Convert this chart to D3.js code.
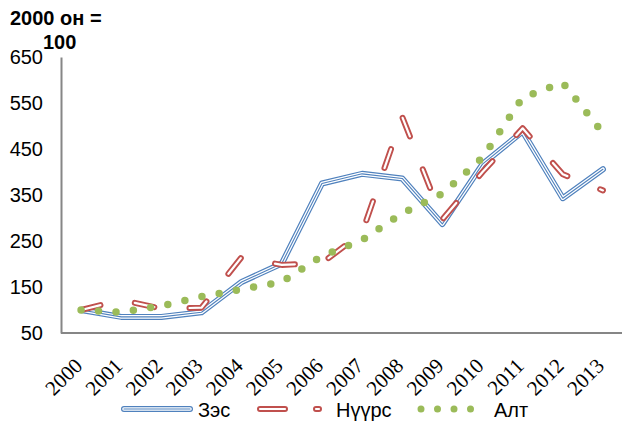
<!DOCTYPE html>
<html><head><meta charset="utf-8">
<script src="https://cdn.jsdelivr.net/npm/d3@7"></script>
<style>body{margin:0;background:#fff}svg{display:block}</style>
</head><body>
<svg id="c" width="622" height="421"></svg>
<script>
const years = ["2000","2001","2002","2003","2004","2005","2006","2007","2008","2009","2010","2011","2012","2013"];
const copper = [100, 85, 85, 95, 161, 201, 375, 396, 386, 287, 417, 488, 343, 406];
const coal   = [100, 122, 103, 105, 215, 198, 202, 268, 520, 297, 400, 495, 395, 360];
const gold   = [100, 95, 109, 129, 145, 161, 217, 252, 310, 353, 431, 562, 594, 485];
const yTicks = [50,150,250,350,450,550,650];
const seriesNames = ["Зэс","Нүүрс","Алт"];
const yTitle = ["2000 он =","100"];

const svg = d3.select("#c");
const x = d3.scalePoint().domain(years).range([61, 623]).padding(0.5);
const y = d3.scaleLinear().domain([50, 650]).range([333, 57]);
const SANS = "Liberation Sans, Arial, sans-serif";

// axes
const yAxis = d3.axisLeft(y).tickValues(yTicks).tickSize(0).tickPadding(18);
const gy = svg.append("g").attr("transform","translate(61,0)").call(yAxis);
gy.select(".domain").attr("stroke","#868686").attr("stroke-width",2);
gy.selectAll("text").attr("font-family",SANS).attr("font-size",20).attr("fill","#000");

const xAxis = d3.axisBottom(x).tickSize(0).tickPadding(0);
const gx = svg.append("g").attr("transform","translate(0,333)").call(xAxis);
gx.select(".domain").attr("stroke","#868686").attr("stroke-width",2).attr("d","M61,0H623");
gx.selectAll("text")
  .attr("font-family","Liberation Serif, Times New Roman, serif").attr("font-size",21).attr("fill","#000")
  .attr("text-anchor","end").attr("dy",null).attr("y",0)
  .attr("transform","translate(2,34) rotate(-45)");

const line = vals => d3.line().x((d,i)=>x(years[i])).y(d=>y(d))(vals);

// Copper: compound blue line
const blue = (g, d) => {
  g.append("path").attr("d",d).attr("fill","none").attr("stroke","#4F81BD").attr("stroke-width",6).attr("stroke-linejoin","round").attr("stroke-linecap","round");
  g.append("path").attr("d",d).attr("fill","none").attr("stroke","#fff").attr("stroke-width",3.6).attr("stroke-linejoin","round").attr("stroke-linecap","round");
  g.append("path").attr("d",d).attr("fill","none").attr("stroke","#4F81BD").attr("stroke-width",1.1).attr("stroke-linejoin","round").attr("stroke-linecap","round");
};
blue(svg.append("g"), line(copper));

// Coal: red long dash with white core
const red = (g, d, dash) => {
  g.append("path").attr("d",d).attr("fill","none").attr("stroke","#C0504D").attr("stroke-width",6).attr("stroke-linecap","round").attr("stroke-linejoin","round").attr("stroke-dasharray",dash);
  g.append("path").attr("d",d).attr("fill","none").attr("stroke","#fff").attr("stroke-width",2.2).attr("stroke-linecap","round").attr("stroke-linejoin","round").attr("stroke-dasharray",dash);
};
red(svg.append("g"), line(coal), "20,35.3");

// Gold: round dots
svg.append("path").attr("d",line(gold)).attr("fill","none").attr("stroke","#9BBB59").attr("stroke-width",7.5).attr("stroke-linecap","round").attr("stroke-dasharray","0,17.5");

// y title
svg.append("text").attr("x",10).attr("y",25).attr("font-family",SANS).attr("font-weight","bold").attr("font-size",20).attr("fill","#000").text(yTitle[0]);
svg.append("text").attr("x",43).attr("y",49).attr("font-family",SANS).attr("font-weight","bold").attr("font-size",20).attr("fill","#000").text(yTitle[1]);

// legend
const ly = 409;
const lg = svg.append("g");
blue(lg, `M124,${ly}H190`);
lg.append("text").attr("x",198).attr("y",ly+8).attr("font-family",SANS).attr("font-size",20).text(seriesNames[0]);
red(lg, `M260,${ly}H319`, "25,31");
lg.append("text").attr("x",336).attr("y",ly+8).attr("font-family",SANS).attr("font-size",20).text(seriesNames[1]);
lg.append("path").attr("d",`M421,${ly}H487`).attr("stroke","#9BBB59").attr("stroke-width",7).attr("stroke-linecap","round").attr("stroke-dasharray","0,16.5");
lg.append("text").attr("x",494).attr("y",ly+8).attr("font-family",SANS).attr("font-size",20).text(seriesNames[2]);
</script>
</body></html>
